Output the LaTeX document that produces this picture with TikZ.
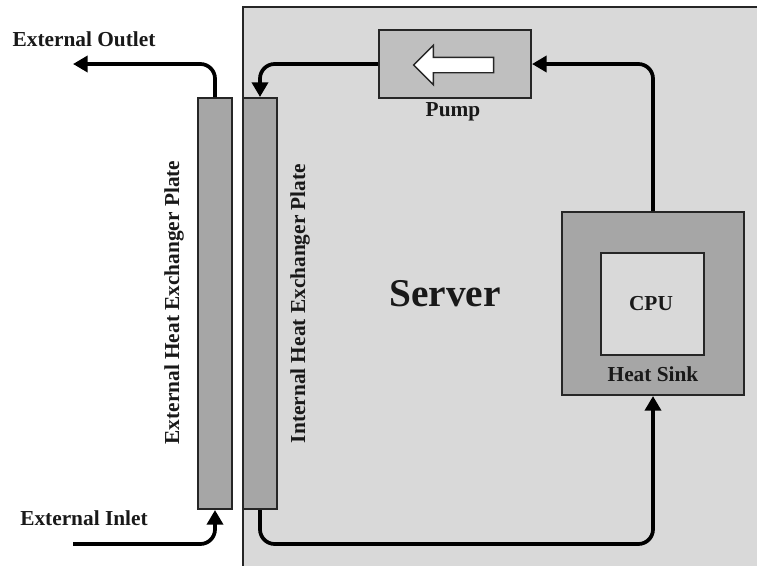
\documentclass[tikz,border=0pt]{standalone}
\usepackage{fontspec}
\setmainfont{Liberation Serif}
\usetikzlibrary{arrows.meta,shapes.arrows}
\tikzset{
  box/.style={rectangle,draw=black!85,line width=1.5pt,inner sep=0pt},
  plate/.style={box,fill=black!35,minimum width=25.5pt,minimum height=308.25pt},
  label/.style={font=\bfseries\fontsize{16}{18}\selectfont,text=black!90},
  pipe/.style={line width=2.8pt,rounded corners=11pt,line cap=butt},
  flow/.style={pipe,-{Triangle[length=11pt,width=12pt]}}
}
\begin{document}
\begin{tikzpicture}[x=0.75pt,y=-0.75pt]
\clip (0,0) rectangle (757,565);
% server case
\node (server) at (621.5,403.5) [box,fill=black!15,minimum width=567.75pt,minimum height=594.75pt] {};
\node (extplate) at (215,303.5) [plate] {};
\node (intplate) at (260,303.5) [plate] {};
\node (pump) at (455,64) [box,fill=black!25,minimum width=114pt,minimum height=51pt] {};
\node (pumparrow) at (457.5,65) [single arrow,shape border rotate=180,draw=black!85,line width=1.1pt,fill=white,inner xsep=0pt,inner ysep=5.25pt,minimum height=60pt,minimum width=28.5pt,single arrow head extend=9pt] {};
\node (sink) at (653,303.5) [box,fill=black!35,minimum width=136.5pt,minimum height=137.25pt] {};
\node (cpu) at (652.5,304) [box,fill=black!15,minimum width=77.25pt,minimum height=76.5pt] {};
% labels
\node (outletlabel) at (84,39) [label] {External Outlet};
\node (inletlabel) at (84,518) [label] {External Inlet};
\node (pumplabel) at (453,112) [label] {Pump};
\node (cpulabel) at (651,304) [label] {CPU};
\node (sinklabel) at (653,374) [label] {Heat Sink};
\node (serverlabel) at (445,294) [font=\bfseries\fontsize{29.5}{32}\selectfont,text=black!90] {Server};
\node (extlabel) at (174,302.5) [label,rotate=90] {External Heat Exchanger Plate};
\node (intlabel) at (300,303.5) [label,rotate=90] {Internal Heat Exchanger Plate};
% pipes
\coordinate (outletend) at (73,64);
\coordinate (inletend) at (73,544);
\coordinate (loopcorner) at (653,544);
\draw[flow] (extplate.north) |- (outletend);
\draw[flow] (inletend) -| (extplate.south);
\draw[flow] (pump.west) -| (intplate.north);
\draw[flow] (sink.north) |- (pump.east);
\draw[flow] (intplate.south) |- (loopcorner) -- (sink.south);
\end{tikzpicture}
\end{document}
